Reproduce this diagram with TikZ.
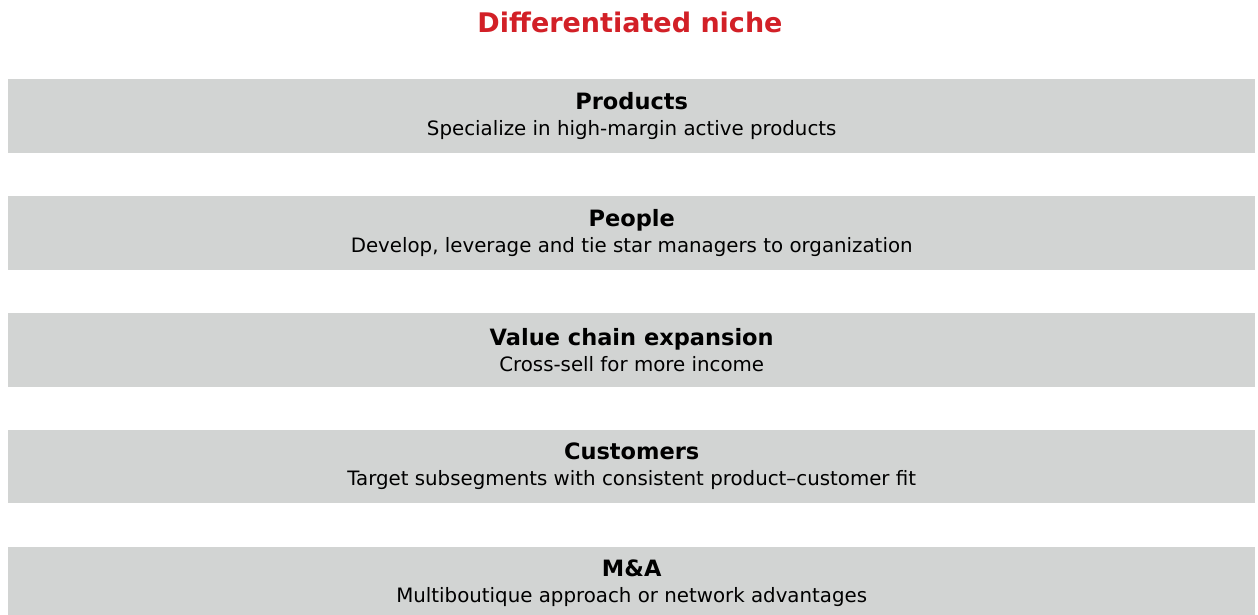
\documentclass[tikz,border=0pt]{standalone}
\usepackage{fontspec}
\setmainfont{DejaVu Sans}
\usetikzlibrary{positioning}
\definecolor{nichered}{RGB}{210,32,39}
\definecolor{bargray}{RGB}{210,212,211}
\tikzset{
    title_text/.style={text centered, align=center, text=nichered, font=\bfseries\fontsize{27}{30}\selectfont},
    bar_node/.style={rectangle, fill=bargray, minimum width=1247pt, minimum height=73.5pt, inner sep=0pt, text centered, align=center, font=\fontsize{19.8}{26}\selectfont},
}
\newcommand{\barhead}[1]{{\bfseries\fontsize{22.5}{26}\selectfont #1}}

\begin{document}
\begin{tikzpicture}[x=1pt, y=1pt, node distance=43pt]
      \useasboundingbox (0,0) rectangle (1258,-615);
      \begin{scope}
      \clip (0,0) rectangle (1258,-615);
      %%%%%%%%%%%%%%%%%%%%%%%
      % Differentiated niche %
      %%%%%%%%%%%%%%%%%%%%%%%
      \node (title) [title_text] at (630,-22)
          {Differentiated niche};
      \node (products) [bar_node, anchor=north west] at (8,-79)
          {\barhead{Products}\\Specialize in high-margin active products};
      \node (people) [bar_node, below = of products]
          {\barhead{People}\\Develop, leverage and tie star managers to organization};
      \node (valuechain) [bar_node, below = of people]
          {\barhead{Value chain expansion}\\Cross-sell for more income};
      \node (customers) [bar_node, below = of valuechain]
          {\barhead{Customers}\\Target subsegments with consistent product–customer fit};
      \node (manda) [bar_node, below = of customers]
          {\barhead{M\&A}\\Multiboutique approach or network advantages};
      \end{scope}
    \end{tikzpicture}
\end{document}
